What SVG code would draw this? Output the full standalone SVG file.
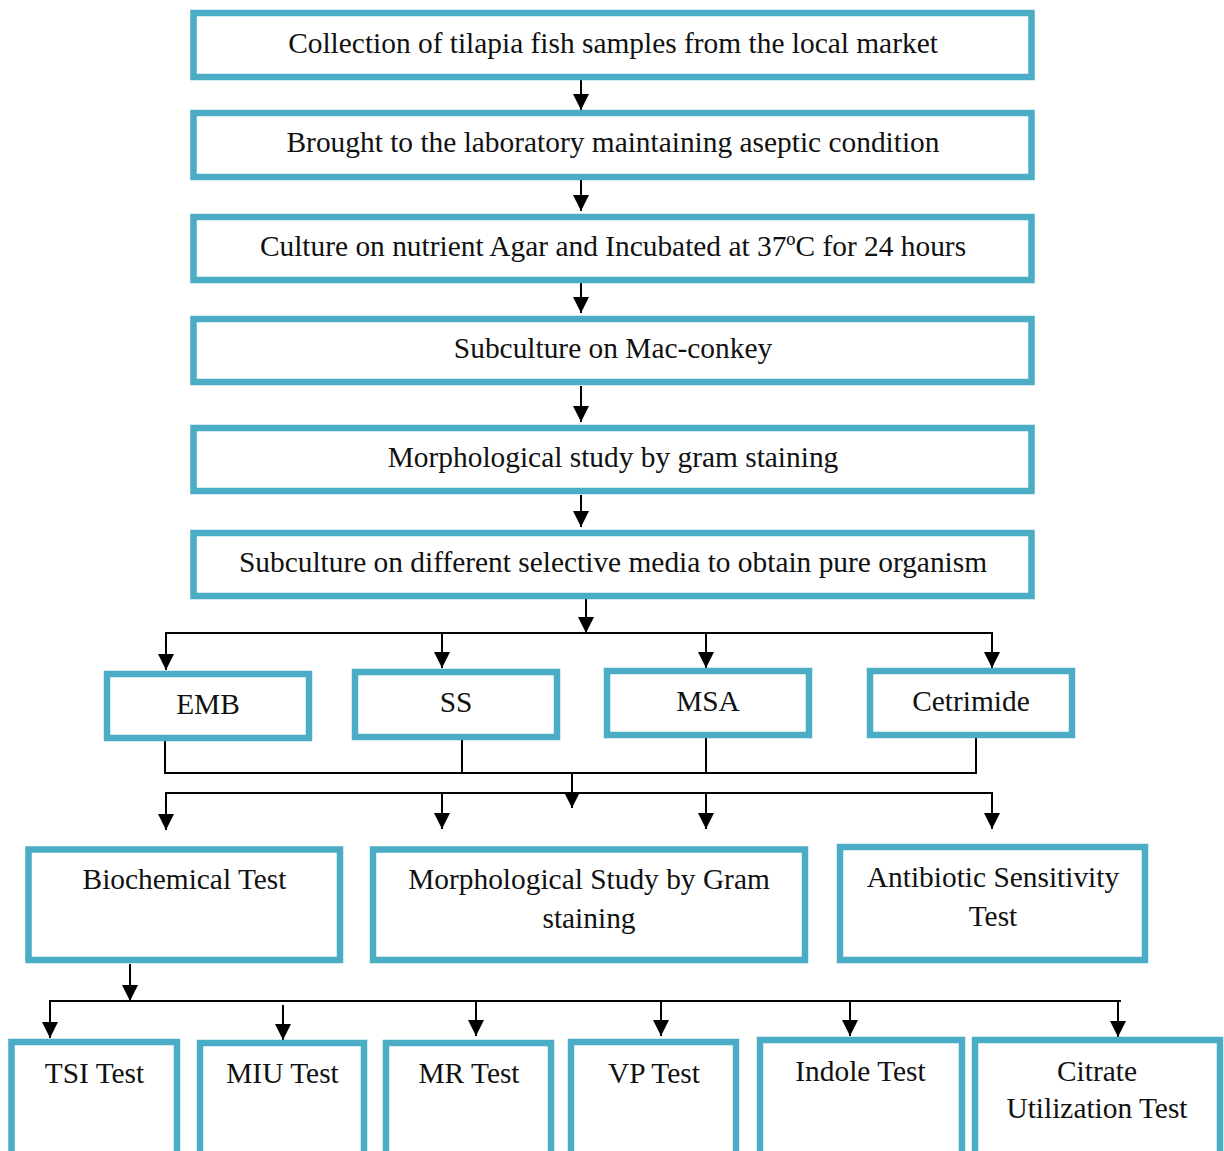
<svg xmlns="http://www.w3.org/2000/svg" width="1224" height="1151" viewBox="0 0 1224 1151">
<style>
.box{fill:#fff;stroke:#4BACC6;stroke-width:6.5}
.t{font-family:"Liberation Serif","Times New Roman",serif;font-size:29.4px;fill:#111;text-anchor:middle}
.c{fill:none;stroke:#000;stroke-width:2}
.a{fill:none;stroke:#000;stroke-width:2;marker-end:url(#ah)}
</style>
<defs>
<marker id="ah" markerUnits="userSpaceOnUse" markerWidth="16" markerHeight="16" refX="16" refY="8" orient="auto" viewBox="0 0 16 16">
<path d="M0,0 L16,8 L0,16 z" fill="#000"/>
</marker>
</defs>
<rect width="1224" height="1151" fill="#fff"/>
<g id="connectors">
<line class="a" x1="581" y1="80" x2="581" y2="110"/>
<line class="a" x1="581" y1="180" x2="581" y2="211"/>
<line class="a" x1="581" y1="283" x2="581" y2="313"/>
<line class="a" x1="581" y1="386" x2="581" y2="422"/>
<line class="a" x1="581" y1="495" x2="581" y2="527"/>
<line class="a" x1="586" y1="599" x2="586" y2="633"/>
<line class="c" x1="165" y1="633" x2="993" y2="633"/>
<line class="a" x1="166" y1="633" x2="166" y2="670"/>
<line class="a" x1="442" y1="633" x2="442" y2="668"/>
<line class="a" x1="706" y1="633" x2="706" y2="668"/>
<line class="a" x1="992" y1="633" x2="992" y2="668"/>
<line class="c" x1="165" y1="741" x2="165" y2="773"/>
<line class="c" x1="462" y1="740" x2="462" y2="773"/>
<line class="c" x1="706" y1="738" x2="706" y2="773"/>
<line class="c" x1="976" y1="738" x2="976" y2="773"/>
<line class="c" x1="164" y1="773" x2="977" y2="773"/>
<line class="a" x1="572" y1="773" x2="572" y2="808"/>
<line class="c" x1="165" y1="793" x2="993" y2="793"/>
<line class="a" x1="166" y1="793" x2="166" y2="830"/>
<line class="a" x1="442" y1="793" x2="442" y2="829"/>
<line class="a" x1="706" y1="793" x2="706" y2="829"/>
<line class="a" x1="992" y1="793" x2="992" y2="829"/>
<line class="a" x1="130" y1="964" x2="130" y2="1001"/>
<line class="c" x1="49" y1="1001" x2="1121" y2="1001"/>
<line class="a" x1="50" y1="1001" x2="50" y2="1038"/>
<line class="a" x1="283" y1="1005" x2="283" y2="1040"/>
<line class="a" x1="476" y1="1001" x2="476" y2="1036"/>
<line class="a" x1="661" y1="1001" x2="661" y2="1036"/>
<line class="a" x1="850" y1="1001" x2="850" y2="1036"/>
<line class="a" x1="1118" y1="1001" x2="1118" y2="1037"/>
</g>
<g id="n1"><rect class="box" x="193.5" y="13" width="838" height="64"/><text class="t" x="613" y="53">Collection of tilapia fish samples from the local market</text></g>
<g id="n2"><rect class="box" x="193.5" y="113" width="838" height="64"/><text class="t" x="613" y="152">Brought to the laboratory maintaining aseptic condition</text></g>
<g id="n3"><rect class="box" x="193.5" y="217" width="838" height="63"/><text class="t" x="613" y="256">Culture on nutrient Agar and Incubated at 37ºC for 24 hours</text></g>
<g id="n4"><rect class="box" x="193.5" y="319" width="838" height="63"/><text class="t" x="613" y="358">Subculture on Mac-conkey</text></g>
<g id="n5"><rect class="box" x="193.5" y="428" width="838" height="63"/><text class="t" x="613" y="467">Morphological study by gram staining</text></g>
<g id="n6"><rect class="box" x="193.5" y="533" width="838" height="63"/><text class="t" x="613" y="572">Subculture on different selective media to obtain pure organism</text></g>
<g id="emb"><rect class="box" x="107" y="674" width="202" height="64"/><text class="t" x="208" y="714">EMB</text></g>
<g id="ss"><rect class="box" x="355" y="672" width="202" height="65"/><text class="t" x="456" y="712">SS</text></g>
<g id="msa"><rect class="box" x="607" y="671" width="202" height="64"/><text class="t" x="708" y="711">MSA</text></g>
<g id="cetrimide"><rect class="box" x="870" y="671" width="202" height="64"/><text class="t" x="971" y="711">Cetrimide</text></g>
<g id="biochem"><rect class="box" x="28.5" y="849.5" width="311.5" height="110.5"/><text class="t" x="184.5" y="889">Biochemical Test</text></g>
<g id="morph"><rect class="box" x="373" y="849.5" width="432" height="110.5"/><text class="t" x="589" y="889">Morphological Study by Gram</text><text class="t" x="589" y="928">staining</text></g>
<g id="abst"><rect class="box" x="840" y="847" width="305" height="113"/><text class="t" x="993" y="887">Antibiotic Sensitivity</text><text class="t" x="993" y="926">Test</text></g>
<g id="tsi"><rect class="box" x="11.5" y="1042" width="165.5" height="130"/><text class="t" x="94.5" y="1083">TSI Test</text></g>
<g id="miu"><rect class="box" x="200" y="1043" width="164" height="130"/><text class="t" x="282.5" y="1083">MIU Test</text></g>
<g id="mr"><rect class="box" x="386" y="1043" width="165" height="130"/><text class="t" x="469" y="1083">MR Test</text></g>
<g id="vp"><rect class="box" x="571" y="1042" width="165" height="130"/><text class="t" x="654" y="1083">VP Test</text></g>
<g id="indole"><rect class="box" x="760" y="1040" width="202" height="130"/><text class="t" x="860.5" y="1081">Indole Test</text></g>
<g id="citrate"><rect class="box" x="975" y="1040" width="245" height="130"/><text class="t" x="1097" y="1081">Citrate</text><text class="t" x="1097" y="1118">Utilization Test</text></g>
</svg>
